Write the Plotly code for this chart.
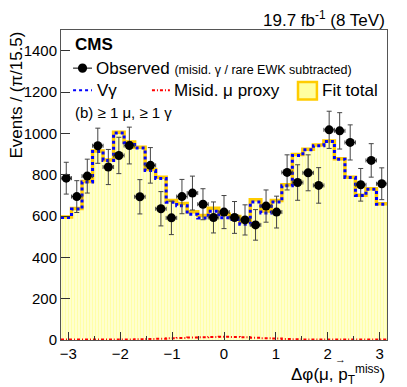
import math
import plotly.graph_objects as go

# 31 bins of width pi/15.5 over [-pi, pi]
n_bins = 31
bin_width = 2 * math.pi / n_bins
edges = [-math.pi + i * bin_width for i in range(n_bins + 1)]
centers = [(edges[i] + edges[i + 1]) / 2 for i in range(n_bins)]

observed = [783, 694, 793, 940, 837, 893, 941, 693, 845, 635, 591, 694, 711, 657, 593, 619,
            593, 581, 557, 648, 619, 811, 762, 809, 748, 1017, 1012, 956, 751, 869, 756]
observed_err = [77, 77, 82, 85, 85, 88, 89, 83, 86, 83, 81, 83, 82, 75, 75, 80,
                77, 73, 74, 78, 77, 85, 86, 87, 86, 90, 88, 85, 79, 81, 77]
vgamma = [593, 634, 765, 912, 869, 1002, 955, 929, 820, 782, 667, 650, 608, 590, 623, 592,
          583, 560, 668, 615, 668, 746, 893, 920, 940, 961, 875, 786, 699, 730, 657]
misid_mu = [2, 2, 2, 2, 2, 3, 3, 4, 5, 6, 8, 10, 12, 13, 15, 16,
            15, 13, 11, 9, 7, 5, 4, 3, 3, 2, 2, 2, 2, 2, 2]
fit_total = [v + m for v, m in zip(vgamma, misid_mu)]

FONT = "Liberation Sans, Arial, sans-serif"
ORANGE = "#ffcc00"
RED_DASH = "3px,2px,1px,2px"


def step(values):
    # repeat the last value so the hv step reaches the right edge
    return values + [values[-1]]


fig = go.Figure()

fig.add_trace(go.Scatter(
    x=edges, y=step(fit_total), mode="lines", line_shape="hv",
    line=dict(color=ORANGE, width=3.5),
    fill="tozeroy", fillcolor="#ffffa0",
    fillpattern=dict(shape="|", fgcolor="#ffff70", bgcolor="#ffffe0", size=3, solidity=0.55),
    showlegend=False))

fig.add_trace(go.Scatter(
    x=edges, y=step(misid_mu), mode="lines", line_shape="hv",
    line=dict(color="red", width=2, dash=RED_DASH), showlegend=False))

fig.add_trace(go.Scatter(
    x=edges, y=step(vgamma), mode="lines", line_shape="hv",
    line=dict(color="blue", width=3, dash="dot"), showlegend=False))

fig.add_trace(go.Scatter(
    x=centers, y=observed, mode="markers",
    marker=dict(color="black", size=9),
    error_y=dict(type="data", array=observed_err, color="#444", thickness=1, width=2.5),
    error_x=dict(type="constant", value=bin_width / 2, color="#444", thickness=1, width=2),
    showlegend=False))

# hand-made legend (ROOT style, two rows)
shapes = [
    dict(type="line", xref="paper", yref="paper", x0=0.037, x1=0.095, y0=0.877, y1=0.877,
         line=dict(color="black", width=1)),
    dict(type="circle", xref="paper", yref="paper", x0=0.052, x1=0.080, y0=0.862, y1=0.892,
         fillcolor="black", line=dict(color="black", width=0)),
    dict(type="line", xref="paper", yref="paper", x0=0.037, x1=0.095, y0=0.806, y1=0.806,
         line=dict(color="blue", width=2, dash="dot")),
    dict(type="line", xref="paper", yref="paper", x0=0.279, x1=0.334, y0=0.806, y1=0.806,
         line=dict(color="red", width=2, dash=RED_DASH)),
    dict(type="rect", xref="paper", yref="paper", x0=0.727, x1=0.785, y0=0.776, y1=0.832,
         fillcolor="#ffffa0", line=dict(color=ORANGE, width=2.5)),
]

annotations = [
    dict(text="<b>CMS</b>", x=0.037, y=0.952, font=dict(size=17)),
    dict(text="Observed <span style='font-size:12.5px'>(misid. γ / rare EWK subtracted)</span>",
         x=0.101, y=0.877, font=dict(size=17)),
    dict(text="Vγ", x=0.104, y=0.806, font=dict(size=17)),
    dict(text="Misid. μ proxy", x=0.340, y=0.806, font=dict(size=17)),
    dict(text="Fit total", x=0.794, y=0.806, font=dict(size=17)),
    dict(text="(b) ≥ 1 μ, ≥ 1 γ", x=0.037, y=0.735, font=dict(size=15)),
    dict(text="19.7 fb<sup>-1</sup> (8 TeV)", x=1.0, y=1.035, xanchor="right", font=dict(size=17)),
    dict(text="Δφ(μ, p<sub>T</sub><sup>miss</sup>)", x=1.0, y=-0.11, xanchor="right",
         font=dict(size=17)),
    # vector arrow over the p of the x title
    dict(text="→", x=0.857, y=-0.062, xanchor="center", font=dict(size=11)),
    dict(text="Events / (π/15.5)", x=-0.138, y=1.0, xanchor="center", yanchor="top",
         textangle=-90, font=dict(size=17)),
]
for a in annotations:
    a.setdefault("xref", "paper")
    a.setdefault("yref", "paper")
    a.setdefault("xanchor", "left")
    a.setdefault("yanchor", "middle")
    a["showarrow"] = False

# the page body adds an 8px margin, so the figure is shrunk and margins shifted to match
fig.update_layout(
    width=399, height=379,
    margin=dict(l=53, r=20, t=22, b=47),
    paper_bgcolor="white", plot_bgcolor="white",
    font=dict(family=FONT, color="black", size=15),
    shapes=shapes, annotations=annotations,
    xaxis=dict(range=[-math.pi, math.pi], tickvals=[-3, -2, -1, 0, 1, 2, 3],
               ticks="inside", ticklen=8, tickcolor="#333", showgrid=False, zeroline=False,
               showline=True, mirror=True, linecolor="#555", linewidth=1,
               minor=dict(dtick=0.5, tick0=0, ticks="inside", ticklen=4, tickcolor="#333"),
               tickfont=dict(size=15)),
    yaxis=dict(range=[0, 1500], dtick=200, ticks="inside", ticklen=9, tickcolor="#333",
               showgrid=False, zeroline=False, showline=True, mirror=True,
               linecolor="#555", linewidth=1, tickfont=dict(size=15)),
)

fig.write_html("out.html")
